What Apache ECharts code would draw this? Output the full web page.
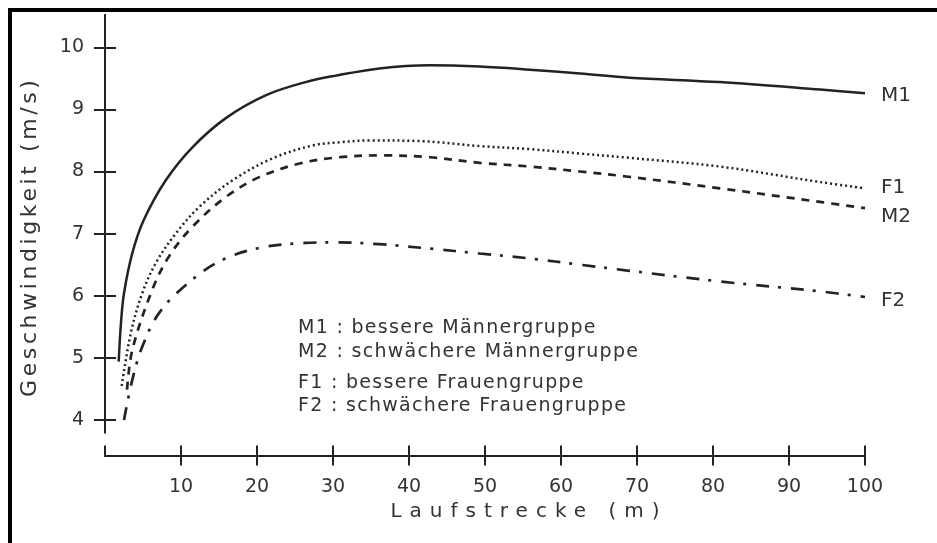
<!DOCTYPE html>
<html>
<head>
<meta charset="utf-8">
<script src="https://cdn.jsdelivr.net/npm/echarts@6/dist/echarts.min.js"></script>
<style>html,body{margin:0;padding:0;background:#fff;}#c{width:937px;height:543px;}</style>
</head>
<body>
<div id="c"></div>
<script>
// ---- data ----
const m1Dist  = [1.8, 2.1, 2.5, 3.6, 5.1, 8.0, 11.5, 15.9, 21.2, 26.4, 30.2, 36.1, 42.7, 49.3, 55.9, 62.5, 69.0, 80.9, 94.1, 100];
const m1Speed = [4.94, 5.56, 6.04, 6.69, 7.22, 7.86, 8.39, 8.86, 9.23, 9.44, 9.54, 9.66, 9.71, 9.69, 9.64, 9.58, 9.51, 9.44, 9.32, 9.26];

const f1Dist  = [2.2, 3.4, 4.9, 6.7, 9.3, 12.4, 16.8, 22.0, 27.3, 30.8, 34.8, 41.4, 49.3, 55.9, 62.5, 69.0, 80.9, 94.1, 100];
const f1Speed = [4.55, 5.40, 6.04, 6.53, 7.00, 7.43, 7.86, 8.21, 8.42, 8.47, 8.50, 8.49, 8.41, 8.36, 8.29, 8.22, 8.08, 7.83, 7.73];

const m2Dist  = [2.9, 3.6, 6.2, 8.4, 11.5, 15.9, 20.3, 25.6, 30.8, 36.5, 42.7, 49.3, 55.9, 62.5, 68.6, 80.9, 94.1, 100];
const m2Speed = [4.49, 5.13, 6.09, 6.63, 7.11, 7.59, 7.91, 8.13, 8.23, 8.26, 8.23, 8.14, 8.08, 8.00, 7.92, 7.73, 7.51, 7.41];

const f2Dist  = [2.5, 3.6, 4.9, 7.1, 10.6, 15.0, 20.3, 26.4, 30.5, 36.1, 42.7, 49.3, 55.9, 62.5, 68.5, 80.9, 94.1, 100];
const f2Speed = [4.00, 4.65, 5.18, 5.72, 6.17, 6.55, 6.77, 6.85, 6.86, 6.83, 6.76, 6.68, 6.60, 6.50, 6.41, 6.23, 6.07, 5.98];

const xTicks = [10, 20, 30, 40, 50, 60, 70, 80, 90, 100];
const yTicks = [4, 5, 6, 7, 8, 9, 10];
const groupText = {
  M1: 'M1 : bessere Männergruppe',
  M2: 'M2 : schwächere Männergruppe',
  F1: 'F1 : bessere Frauengruppe',
  F2: 'F2 : schwächere Frauengruppe'
};
const xName = 'Laufstrecke (m)';
const yName = 'Geschwindigkeit (m/s)';

// letter spacing for the widely spaced captions of the scan
const SPACING = {};
SPACING[xName] = 8;
SPACING[yName] = 3.6;
Object.keys(groupText).forEach(k => { SPACING[groupText[k]] = 1.3; });
const origFill = CanvasRenderingContext2D.prototype.fillText;
function setSpacing(ctx, v) {
  const f = ctx.font;
  ctx.letterSpacing = v;
  ctx.font = '10px serif';
  ctx.font = f;
}
CanvasRenderingContext2D.prototype.fillText = function (t) {
  const s = SPACING[t];
  if ('letterSpacing' in this) {
    setSpacing(this, s ? s + 'px' : '0px');
  }
  return origFill.apply(this, arguments);
};

const FONT = 'DejaVu Sans';
const INK = '#232323';
const zip = (a, b) => a.map((v, i) => [v, b[i]]);

const YMIN = 3.8, YMAX = 10.52;

function xAxisDef(inside, withLabels) {
  return {
    type: 'value', min: 0, max: 100, position: 'bottom', offset: 23,
    axisLine: { show: true, lineStyle: { color: INK, width: 2 } },
    axisTick: { show: true, inside: inside, length: 10,
      customValues: inside ? [0].concat(xTicks) : xTicks,
      lineStyle: { color: INK, width: 2 } },
    axisLabel: { show: withLabels, customValues: xTicks, margin: 22,
      fontFamily: FONT, fontSize: 19, color: '#333' },
    splitLine: { show: false },
    name: withLabels ? xName : '', nameLocation: 'middle', nameGap: 42,
    nameTextStyle: { fontFamily: FONT, fontSize: 20, color: '#333', padding: [0, 0, 0, 88] }
  };
}
function yAxisDef(inside, withLabels) {
  return {
    type: 'value', min: YMIN, max: YMAX, position: 'left',
    axisLine: { show: true, lineStyle: { color: INK, width: 2 } },
    axisTick: { show: true, inside: inside, length: 11, customValues: yTicks,
      lineStyle: { color: INK, width: 2 } },
    axisLabel: { show: withLabels, customValues: yTicks, margin: 21,
      fontFamily: FONT, fontSize: 19, color: '#333' },
    splitLine: { show: false },
    name: withLabels ? yName : '', nameLocation: 'middle', nameGap: 64,
    nameTextStyle: { fontFamily: FONT, fontSize: 22, color: '#333', padding: [0, 26, 0, 0] }
  };
}

function lineSeries(name, dist, speed, dash, width, dy) {
  return {
    name: name, type: 'line', data: zip(dist, speed),
    smooth: 0.35, showSymbol: false, symbol: 'none',
    lineStyle: { color: INK, width: width, type: dash, cap: 'butt' },
    endLabel: { show: true, formatter: p => p.seriesName, distance: 16, offset: [0, dy],
      fontFamily: FONT, fontSize: 20, color: '#333' },
    emphasis: { disabled: true }
  };
}

const chart = echarts.init(document.getElementById('c'), null, { renderer: 'canvas' });
chart.setOption({
  animation: false,
  backgroundColor: '#fff',
  grid: { left: 105, right: 72, top: 15, bottom: 110.6, containLabel: false },
  xAxis: [xAxisDef(false, true), xAxisDef(true, false)],
  yAxis: [yAxisDef(false, true), yAxisDef(true, false)],
  legend: [
    { data: ['M1', 'M2'], left: 288, top: 314, orient: 'vertical', icon: 'none',
      itemWidth: 0, itemHeight: 14, itemGap: 5, selectedMode: false,
      formatter: n => groupText[n],
      textStyle: { fontFamily: FONT, fontSize: 19, color: '#333' } },
    { data: ['F1', 'F2'], left: 288, top: 369, orient: 'vertical', icon: 'none',
      itemWidth: 0, itemHeight: 14, itemGap: 4, selectedMode: false,
      formatter: n => groupText[n],
      textStyle: { fontFamily: FONT, fontSize: 19, color: '#333' } }
  ],
  graphic: [
    { type: 'rect', silent: true, z: 100,
      shape: { x: 10, y: 10, width: 935, height: 540 },
      style: { fill: 'none', stroke: '#000', lineWidth: 4 } }
  ],
  series: [
    lineSeries('M1', m1Dist, m1Speed, 'solid', 2.5, 3),
    lineSeries('M2', m2Dist, m2Speed, [8, 7], 2.7, 9),
    lineSeries('F1', f1Dist, f1Speed, [2, 3], 2.5, 0),
    lineSeries('F2', f2Dist, f2Speed, [13, 9, 3, 10], 2.7, 4)
  ]
});
</script>
</body>
</html>
